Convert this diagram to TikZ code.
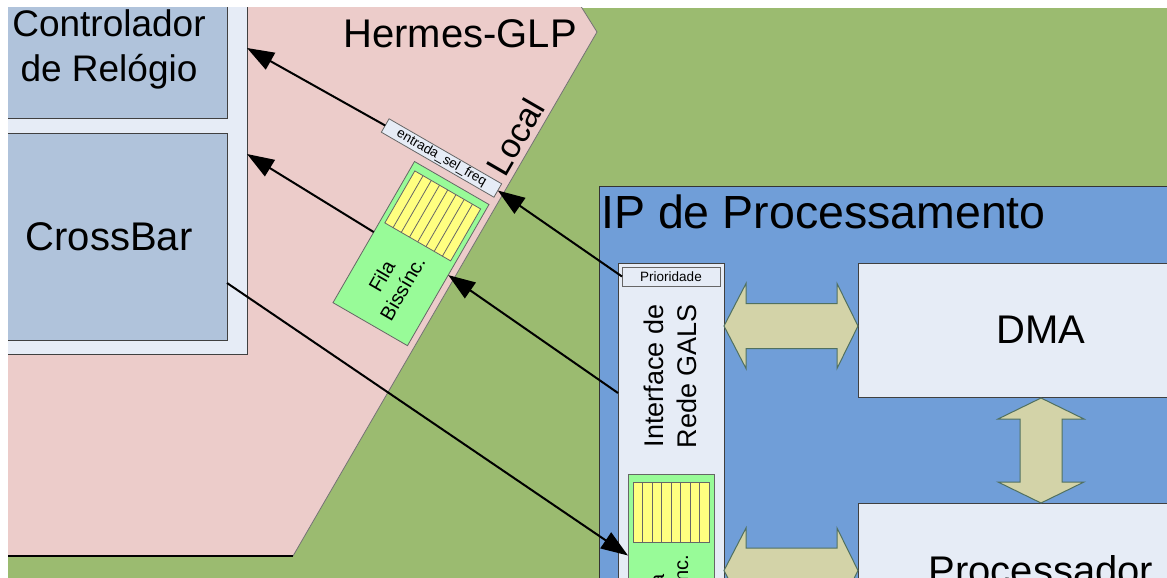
\documentclass[tikz,border=0pt]{standalone}
\usepackage{fontspec}
\setmainfont{Liberation Sans}
\usetikzlibrary{arrows.meta}

\definecolor{bggreen}{RGB}{155,187,112}
\definecolor{hpink}{RGB}{236,204,202}
\definecolor{lav}{RGB}{230,236,246}
\definecolor{steel}{RGB}{176,195,219}
\definecolor{ipblue}{RGB}{112,158,216}
\definecolor{fgreen}{RGB}{152,251,152}
\definecolor{fyellow}{RGB}{255,255,128}
\definecolor{khaki}{RGB}{211,211,168}
\definecolor{khakiedge}{RGB}{80,112,96}
\definecolor{edgegray}{RGB}{64,64,64}

\tikzset{
  box/.style={draw=edgegray, line width=1pt, inner sep=0pt, outer sep=0pt},
  tag/.style={box, fill=lav, draw=black!60, line width=0.8pt,
    font=\fontsize{13.5}{16}\selectfont},
  filag/.style={box, fill=fgreen, draw=black!60, line width=0.8pt,
    minimum width=86pt, minimum height=163pt},
  stripe/.style={draw=black!60, line width=0.8pt},
  link/.style={line width=2pt, -{Triangle[length=27pt,width=19pt]}},
  bigarrow/.style={fill=khaki, draw=khakiedge, line width=1pt, line join=miter},
  big/.style={font=\fontsize{40}{48}\selectfont},
}

% bisynchronous FIFO, drawn from its top-left corner (local y points down)
\newcommand\filabox[1]{%
  \node[filag, anchor=north west] (#1) at (0,0) {};
  \draw[stripe, fill=fyellow] (5,8) rectangle (81,68);
  \foreach \k in {1,...,7} \draw[stripe] ({5+\k*9.5},8) -- ({5+\k*9.5},68);
  \node[rotate=90, align=center, inner sep=0pt, font=\fontsize{20}{24}\selectfont]
    (#1text) at (41,116) {Fila\\Bissínc.};
}

\begin{document}
\begin{tikzpicture}[x=1pt,y=-1pt]
\useasboundingbox (0,0) rectangle (1167,578);
\begin{scope}
\clip (8,8) rectangle (1167,578);
\fill[bggreen] (8,8) rectangle (1167,578);

% Hermes-GLP router region
\fill[hpink] (-20,-20) -- (564.5,-20) -- (597,32) -- (293,556) -- (-20,556) -- cycle;
\draw[black!55, line width=0.8pt] (564.5,-20) -- (597,32) -- (293,556);
\draw[black, line width=1.2pt] (293,556) -- (-20,556);

\node[box, fill=lav, minimum width=267pt, minimum height=374pt] (leftcol) at (113.5,167) {};
\node[box, fill=steel, minimum width=236pt, minimum height=138pt, align=center,
  font=\fontsize{37}{45}\selectfont] (ctrl) at (109,49) {Controlador\\de Relógio};
\node[box, fill=steel, minimum width=236pt, minimum height=207pt, big] (xbar) at (109,236.5) {CrossBar};

\node[anchor=base east, inner sep=0pt, big] (hermes) at (577,48) {Hermes-GLP};
\node[rotate=60, inner sep=0pt, font=\fontsize{34}{40}\selectfont] (local) at (515,137) {Local};

% processing IP
\node[box, fill=ipblue, draw=black!80, minimum width=631pt, minimum height=454pt] (ip) at (914.5,413) {};
\node[anchor=base west, inner sep=0pt, font=\fontsize{46.5}{54}\selectfont] (iptitle) at (601,228) {IP de Processamento};

\node[box, fill=lav, minimum width=106pt, minimum height=380pt] (iface) at (671,453) {};
\node[rotate=90, align=center, inner sep=0pt, font=\fontsize{27}{33}\selectfont] (ifacetext) at (670,376) {Interface de\\Rede GALS};
\node[tag, minimum width=98pt, minimum height=19pt] (prio) at (671,276.5) {Prioridade};

\node[box, fill=lav, minimum width=366pt, minimum height=134pt, big] (dma) at (1041,330) {DMA};
\node[box, fill=lav, minimum width=366pt, minimum height=134pt, big] (proc) at (1041,570) {Processador};

% buses
\draw[bigarrow] (724,326) -- (746,283.5) -- (746,303.5) -- (837,303.5) -- (837,283.5) -- (858,326)
  -- (837,368.5) -- (837,348.5) -- (746,348.5) -- (746,368.5) -- cycle;
\draw[bigarrow] (724,570.5) -- (746,528) -- (746,548) -- (837,548) -- (837,528) -- (858,570.5)
  -- (837,613) -- (837,593) -- (746,593) -- (746,613) -- cycle;
\draw[bigarrow] (1041,398) -- (1084,419) -- (1062,419) -- (1062,482) -- (1084,482) -- (1041,503)
  -- (998,482) -- (1020,482) -- (1020,419) -- (998,419) -- cycle;

% FIFOs
\begin{scope}[shift={(414.5,161.5)}, rotate=-30, transform shape]
  \filabox{fila1}
\end{scope}
\begin{scope}[shift={(628,474)}, transform shape]
  \filabox{fila2}
\end{scope}

\node[tag, rotate=-30, minimum width=130pt, minimum height=15.5pt] (sel) at (441.5,158) {entrada\_sel\_freq};

% signals
\coordinate (ctrlin) at (247,48);
\coordinate (xbarin) at (247,154);
\coordinate (xbarout) at (227,283);
\coordinate (ifaceout) at (618,393);
\draw[link] (sel.west) -- (ctrlin);
\draw[link] (prio.west) -- (sel.east);
\draw[link] (ifaceout) -- (fila1.east);
\draw[link] (fila1.west) -- (xbarin);
\draw[link] (xbarout) -- (fila2.west);
\end{scope}
\end{tikzpicture}
\end{document}
